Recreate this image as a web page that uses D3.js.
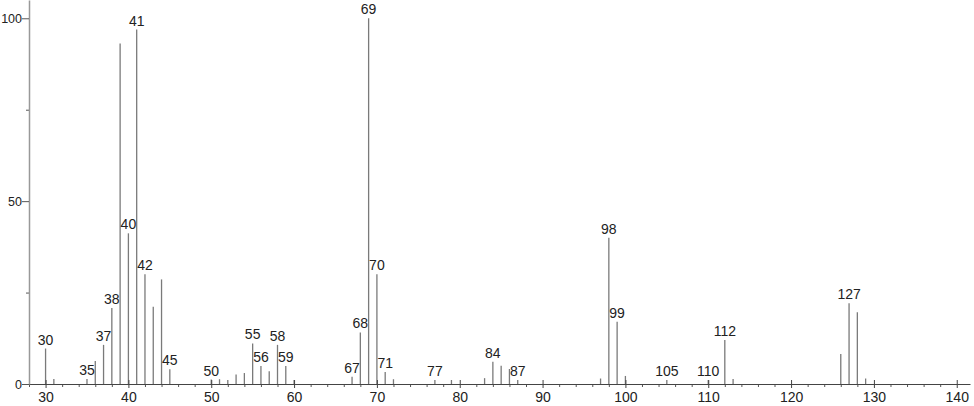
<!DOCTYPE html>
<html>
<head>
<meta charset="utf-8">
<script src="https://cdn.jsdelivr.net/npm/d3@7"></script>
<style>
  body { margin: 0; background: #fff; }
  text { font-family: "Liberation Sans", sans-serif; fill: #222; }
</style>
</head>
<body>
<div class="spectrum"></div>
<script>
// m/z and relative intensity
var masses = [30, 31, 35, 36, 37, 38, 39, 40, 41, 42, 43, 44, 45,
              50, 51, 52, 53, 54, 55, 56, 57, 58, 59, 60,
              67, 68, 69, 70, 71, 72, 77, 79, 83, 84, 85, 86, 87,
              97, 98, 99, 100, 105, 110, 112, 113, 126, 127, 128, 129];
var intensity = [9.7, 1.4, 1.4, 6.3, 10.7, 20.8, 93.1, 41.2, 96.9, 30, 21.1, 28.6, 4,
                 1.2, 1.3, 1.1, 2.6, 3, 11.1, 4.9, 3.5, 10.7, 4.9, 1.1,
                 2, 14.1, 100, 30, 3.3, 1.3, 1.1, 1.1, 1.6, 6.1, 5, 4.1, 1.1,
                 1.5, 40, 17, 2.2, 1.1, 1.1, 12, 1.4, 8.2, 22.1, 19.6, 1.5];
var labelled = [30, 35, 37, 38, 40, 41, 42, 45, 50, 55, 56, 58, 59,
                67, 68, 69, 70, 71, 77, 84, 87, 98, 99, 105, 110, 112, 127];
var xTicks = [30, 40, 50, 60, 70, 80, 90, 100, 110, 120, 130, 140];
var yTicks = [0, 50, 100];

var w = 974, h = 406;
var x = d3.scaleLinear().domain([28, 141.6]).range([29, 970]);
var y = d3.scaleLinear().domain([0, 105]).range([384, 0]);

var svg = d3.select('.spectrum')
  .append('svg')
  .attr('width', w)
  .attr('height', h);

var peaks = masses.map(function(m, i){ return {m: m, v: intensity[i]}; });

// peaks
svg.selectAll('line.peak')
  .data(peaks)
  .enter()
  .append('line')
  .attr('class', 'peak')
  .attr('x1', function(d){ return x(d.m); })
  .attr('x2', function(d){ return x(d.m); })
  .attr('y1', y(0))
  .attr('y2', function(d){ return y(d.v); })
  .attr('stroke', '#7a7a7a')
  .attr('stroke-width', 1.3);

// peak labels
svg.selectAll('text.lab')
  .data(peaks.filter(function(d){ return labelled.indexOf(d.m) >= 0; }))
  .enter()
  .append('text')
  .attr('class', 'lab')
  .attr('x', function(d){ return x(d.m); })
  .attr('y', function(d){ return y(d.v) - 4; })
  .attr('text-anchor', 'middle')
  .attr('font-size', 14)
  .text(function(d){ return d.m; });

// x axis, minor ticks every 2
var minor = d3.range(28, 142, 2).filter(function(v){ return v % 10 !== 0; });
var xMinor = svg.append('g')
  .attr('transform', 'translate(0,' + y(0) + ')')
  .call(d3.axisBottom(x).tickValues(minor).tickSize(3).tickFormat(''));
xMinor.select('.domain').remove();
xMinor.selectAll('line').attr('stroke', '#555');

var xAxis = svg.append('g')
  .attr('transform', 'translate(0,' + y(0) + ')')
  .call(d3.axisBottom(x).tickValues(xTicks).tickSize(4).tickSizeOuter(0).tickPadding(4));
xAxis.select('.domain').attr('stroke', '#444');
xAxis.selectAll('.tick line').attr('y1', -4).attr('stroke', '#444');
xAxis.selectAll('text').attr('font-size', 14).attr('font-family', 'Liberation Sans').attr('fill', '#222');

// y axis
var yMinor = svg.append('g')
  .attr('transform', 'translate(29,0)')
  .call(d3.axisLeft(y).tickValues([25, 75]).tickSize(3).tickFormat(''));
yMinor.select('.domain').remove();
yMinor.selectAll('line').attr('stroke', '#555');

var yAxis = svg.append('g')
  .attr('transform', 'translate(29,0)')
  .call(d3.axisLeft(y).tickValues(yTicks).tickSize(7).tickSizeOuter(0).tickPadding(0));
yAxis.select('.domain').attr('stroke', '#999').attr('stroke-width', 1.5);
yAxis.selectAll('.tick line').attr('stroke', '#555');
yAxis.selectAll('text').attr('font-size', 12.5).attr('font-family', 'Liberation Sans').attr('fill', '#222');
</script>
</body>
</html>
